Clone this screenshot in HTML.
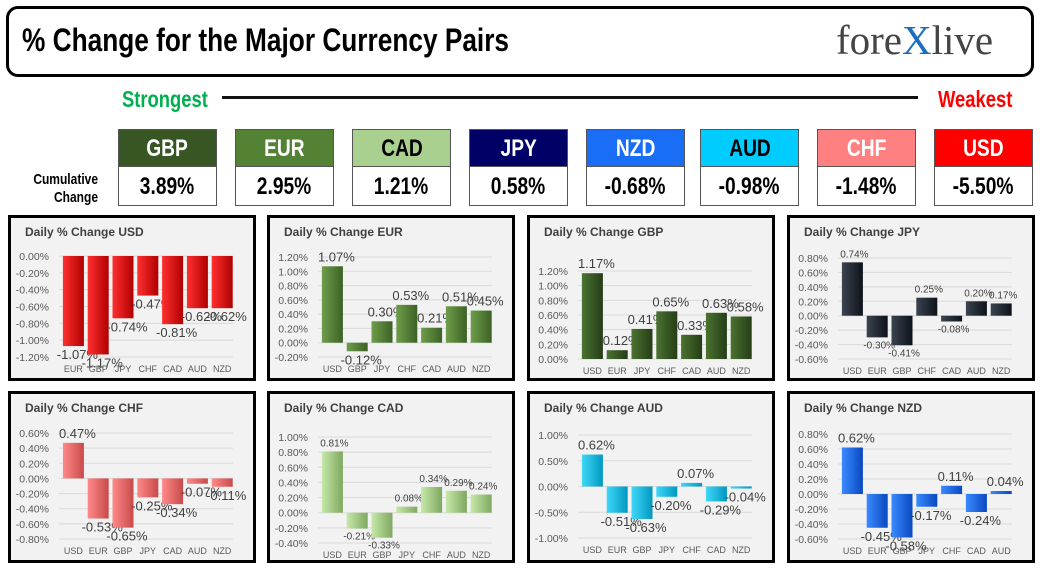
<!DOCTYPE html>
<html><head><meta charset="utf-8"><style>
body{margin:0;width:1046px;height:575px;background:#fff;position:relative;overflow:hidden;font-family:"Liberation Sans",sans-serif}
.abs{position:absolute}
.cond{font-family:"Liberation Sans",sans-serif;font-weight:bold}
.sq{display:inline-block;transform:scaleX(0.8);transform-origin:center center}
.hd{position:absolute;top:129px;width:99px;height:38px;border:1px solid #555;box-sizing:border-box;text-align:center;line-height:38px;font-size:24px}
.vl{position:absolute;top:167px;width:99px;height:39px;border:1px solid #555;border-top:none;box-sizing:border-box;text-align:center;line-height:40px;font-size:24px;color:#000}
.panel{position:absolute;border:3px solid #000;background:#f2f2f2;box-sizing:border-box}
</style></head><body>
<div class="abs" style="left:6px;top:6px;width:1028px;height:71px;border:3px solid #000;border-radius:12px;box-sizing:border-box"></div>
<div class="abs cond" style="left:22px;top:22px;font-size:32px;transform:scaleX(0.82);transform-origin:left top;white-space:nowrap">% Change for the Major Currency Pairs</div>
<div class="abs" style="left:836px;top:16px;font-family:'Liberation Serif',serif;font-size:41px;color:#444;white-space:nowrap">fore<span style="color:#1a6ec0">X</span>live</div>
<div class="abs cond" style="left:122px;top:86px;font-size:23px;color:#00b050;transform:scaleX(0.8);transform-origin:left top">Strongest</div>
<div class="abs" style="left:222px;top:96px;width:696px;height:3px;background:#111"></div>
<div class="abs cond" style="left:938px;top:86px;font-size:23px;color:#ff0000;transform:scaleX(0.8);transform-origin:left top">Weakest</div>
<div class="abs cond" style="left:8px;top:171px;font-size:15px;text-align:right;width:90px;line-height:18px;transform:scaleX(0.8);transform-origin:right top">Cumulative<br>Change</div>
<div id="hdrs"></div>
<div id="panels"></div>
<script>
const hdrNames=["GBP","EUR","CAD","JPY","NZD","AUD","CHF","USD"];
const hdrValues=["3.89%","2.95%","1.21%","0.58%","-0.68%","-0.98%","-1.48%","-5.50%"];
const hdrX=[118,235,352,469,586,700,817,934];
const hdrBg=["#375623","#548235","#a9d08e","#000066","#1a6ef5","#00ccff","#ff8080","#ff0000"];
const hdrFg=["#fff","#fff","#000","#fff","#fff","#000","#fff","#fff"];
const H=document.getElementById('hdrs');
hdrNames.forEach((n,i)=>{
 const a=document.createElement('div');a.className='hd cond';
 
 
 a.style.left=hdrX[i]+'px';a.style.background=hdrBg[i];a.style.color=hdrFg[i];
 a.innerHTML='<span class="sq">'+n+'</span>';H.appendChild(a);
 const b=document.createElement('div');b.className='vl cond';
 
 
 b.style.left=hdrX[i]+'px';b.innerHTML='<span class="sq">'+hdrValues[i]+'</span>';H.appendChild(b);
});

const usdCats=["EUR","GBP","JPY","CHF","CAD","AUD","NZD"];
const usdVals=[-1.07,-1.17,-0.74,-0.47,-0.81,-0.62,-0.62];
const eurCats=["USD","GBP","JPY","CHF","CAD","AUD","NZD"];
const eurVals=[1.07,-0.12,0.30,0.53,0.21,0.51,0.45];
const gbpCats=["USD","EUR","JPY","CHF","CAD","AUD","NZD"];
const gbpVals=[1.17,0.12,0.41,0.65,0.33,0.63,0.58];
const jpyCats=["USD","EUR","GBP","CHF","CAD","AUD","NZD"];
const jpyVals=[0.74,-0.30,-0.41,0.25,-0.08,0.20,0.17];
const chfCats=["USD","EUR","GBP","JPY","CAD","AUD","NZD"];
const chfVals=[0.47,-0.53,-0.65,-0.25,-0.34,-0.07,-0.11];
const cadCats=["USD","EUR","GBP","JPY","CHF","AUD","NZD"];
const cadVals=[0.81,-0.21,-0.33,0.08,0.34,0.29,0.24];
const audCats=["USD","EUR","GBP","JPY","CHF","CAD","NZD"];
const audVals=[0.62,-0.51,-0.63,-0.20,0.07,-0.29,-0.04];
const nzdCats=["USD","EUR","GBP","JPY","CHF","CAD","AUD"];
const nzdVals=[0.62,-0.45,-0.58,-0.17,0.11,-0.24,0.04];

const panels=[
 {id:'usd',t:'USD',x:8,y:215,h:166,cats:usdCats,vals:usdVals,max:0,min:-1.2,step:0.2,top:38,bot:139,c1:'#ff3030',c2:'#b00000',fs:13},
 {id:'eur',t:'EUR',x:267,y:215,h:166,cats:eurCats,vals:eurVals,max:1.2,min:-0.2,step:0.2,top:39,bot:139,c1:'#6e9e4a',c2:'#3d6126',fs:13},
 {id:'gbp',t:'GBP',x:527,y:215,h:166,cats:gbpCats,vals:gbpVals,max:1.2,min:0,step:0.2,top:53,bot:141,c1:'#4b7330',c2:'#253d17',fs:13},
 {id:'jpy',t:'JPY',x:787,y:215,h:166,cats:jpyCats,vals:jpyVals,max:0.8,min:-0.6,step:0.2,top:40,bot:141,c1:'#3a4350',c2:'#0e131a',fs:10},
 {id:'chf',t:'CHF',x:8,y:391,h:172,cats:chfCats,vals:chfVals,max:0.6,min:-0.8,step:0.2,top:39,bot:145,c1:'#ff8a8a',c2:'#c84a4a',fs:13},
 {id:'cad',t:'CAD',x:267,y:391,h:172,cats:cadCats,vals:cadVals,max:1.0,min:-0.4,step:0.2,top:43,bot:149,c1:'#c6e8a8',c2:'#7fa860',fs:10},
 {id:'aud',t:'AUD',x:527,y:391,h:172,cats:audCats,vals:audVals,max:1.0,min:-1.0,step:0.5,top:41,bot:144,c1:'#40d8f8',c2:'#0098c0',fs:13},
 {id:'nzd',t:'NZD',x:787,y:391,h:172,cats:nzdCats,vals:nzdVals,max:0.8,min:-0.6,step:0.2,top:40,bot:145,c1:'#3a8aff',c2:'#0a48c0',fs:13}
];
const NS='http://www.w3.org/2000/svg';
const P=document.getElementById('panels');
function el(tag,attrs,parent){const e=document.createElementNS(NS,tag);for(const k in attrs)e.setAttribute(k,attrs[k]);parent.appendChild(e);return e;}
function fmt(v){const r=Math.round(v*100)/100;return (Math.abs(r)<1e-9?0:r).toFixed(2)+'%';}
panels.forEach(p=>{
 const d=document.createElement('div');d.className='panel';
 
 
 d.style.left=p.x+'px';d.style.top=p.y+'px';d.style.width='248px';d.style.height=p.h+'px';
 P.appendChild(d);
 const s=el('svg',{width:242,height:p.h-6,style:'position:absolute;left:0;top:0;font-family:Liberation Sans,sans-serif'},d);
 const g=el('linearGradient',{id:'g'+p.id,x1:0,x2:1,y1:0,y2:0},el('defs',{},s));
 el('stop',{offset:'0','stop-color':p.c1},g);el('stop',{offset:'1','stop-color':p.c2},g);
 const tt=el('text',{x:14,y:18,'font-size':12,'font-weight':'bold',fill:'#404040'},s);
 
 
 tt.textContent='Daily % Change '+p.t;
 const ys=v=>p.top+(p.max-v)/(p.max-p.min)*(p.bot-p.top);
 const n=Math.round((p.max-p.min)/p.step);
 for(let i=0;i<=n;i++){const v=p.max-i*p.step;const y=ys(v);
  el('line',{x1:48,x2:222,y1:y,y2:y,stroke:'#d9d9d9','stroke-width':1},s);
  const t=el('text',{x:38,y:y+4,'font-size':10.5,fill:'#595959','text-anchor':'end'},s);
  
  
  t.textContent=fmt(v);}
 const x0=50,bw=24.8;
 p.vals.forEach((v,i)=>{
  const cx=x0+bw*(i+0.5);const y0=ys(0),y1=ys(v);
  const r=el('rect',{x:cx-10.5,y:Math.min(y0,y1),width:21,height:Math.max(1.5,Math.abs(y1-y0)),fill:'url(#g'+p.id+')'},s);
  
  
  const lt=el('text',{x:cx+(p.fs>11?4:2),y:v>=0?y1-5:y1+(p.fs>11?13:11),'font-size':p.fs,fill:'#404040','text-anchor':'middle'},s);
  
  
  lt.textContent=fmt(v);
  const ct=el('text',{x:cx,y:p.bot+15,'font-size':9,fill:'#595959','text-anchor':'middle'},s);
  
  
  ct.textContent=p.cats[i];
 });
});
</script>
</body></html>
